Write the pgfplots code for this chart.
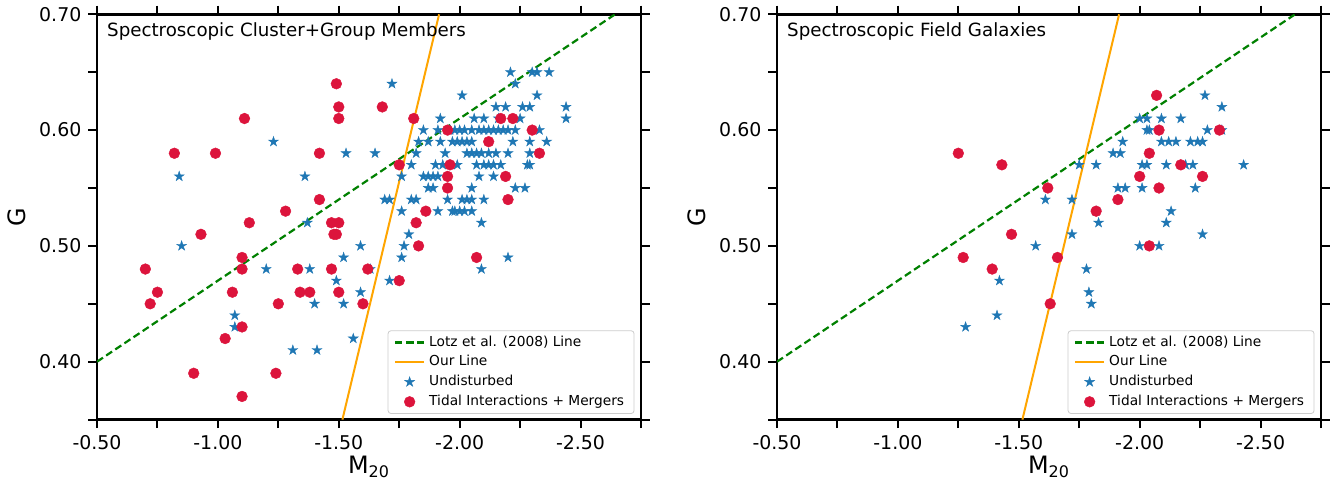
\documentclass[border=0pt]{standalone}
\usepackage{fontspec}
\setmainfont{DejaVu Sans}
\usepackage{pgfplots}
\pgfplotsset{compat=1.18}
\definecolor{mblue}{HTML}{1F77B4}
\definecolor{mred}{HTML}{DC143C}
\definecolor{morange}{HTML}{FFA500}
\definecolor{mgreen}{HTML}{008000}
\pgfdeclareplotmark{fstar}{%
\pgfpathmoveto{\pgfpointpolar{90}{\pgfplotmarksize}}%
\pgfpathlineto{\pgfpointpolar{126}{0.38\pgfplotmarksize}}%
\pgfpathlineto{\pgfpointpolar{162}{\pgfplotmarksize}}%
\pgfpathlineto{\pgfpointpolar{198}{0.38\pgfplotmarksize}}%
\pgfpathlineto{\pgfpointpolar{234}{\pgfplotmarksize}}%
\pgfpathlineto{\pgfpointpolar{270}{0.38\pgfplotmarksize}}%
\pgfpathlineto{\pgfpointpolar{306}{\pgfplotmarksize}}%
\pgfpathlineto{\pgfpointpolar{342}{0.38\pgfplotmarksize}}%
\pgfpathlineto{\pgfpointpolar{18}{\pgfplotmarksize}}%
\pgfpathlineto{\pgfpointpolar{54}{0.38\pgfplotmarksize}}%
\pgfpathclose
\pgfusepathqfillstroke}

\pgfplotstableread{
x y
-2.21 0.65
-2.30 0.65
-2.32 0.65
-2.37 0.65
-1.72 0.64
-2.23 0.64
-2.01 0.63
-2.32 0.63
-2.15 0.62
-2.19 0.62
-2.26 0.62
-2.29 0.62
-2.44 0.62
-1.92 0.61
-2.06 0.61
-2.10 0.61
-2.16 0.61
-2.25 0.61
-2.44 0.61
-1.85 0.60
-1.91 0.60
-1.96 0.60
-1.98 0.60
-2.00 0.60
-2.02 0.60
-2.05 0.60
-2.08 0.60
-2.10 0.60
-2.12 0.60
-2.14 0.60
-2.16 0.60
-2.18 0.60
-2.20 0.60
-2.23 0.60
-2.33 0.60
-1.23 0.59
-1.83 0.59
-1.87 0.59
-1.92 0.59
-1.97 0.59
-1.99 0.59
-2.01 0.59
-2.03 0.59
-2.05 0.59
-2.22 0.59
-2.29 0.59
-2.36 0.59
-1.53 0.58
-1.65 0.58
-1.82 0.58
-1.94 0.58
-2.03 0.58
-2.05 0.58
-2.07 0.58
-2.09 0.58
-2.12 0.58
-2.15 0.58
-2.20 0.58
-2.29 0.58
-1.80 0.57
-1.90 0.57
-1.93 0.57
-1.99 0.57
-2.07 0.57
-2.10 0.57
-2.12 0.57
-2.14 0.57
-2.17 0.57
-2.28 0.57
-2.29 0.57
-0.84 0.56
-1.36 0.56
-1.76 0.56
-1.85 0.56
-1.87 0.56
-1.89 0.56
-1.91 0.56
-2.08 0.56
-2.14 0.56
-1.87 0.55
-1.89 0.55
-2.05 0.55
-2.23 0.55
-2.27 0.55
-1.69 0.54
-1.71 0.54
-1.80 0.54
-1.82 0.54
-1.95 0.54
-2.01 0.54
-2.03 0.54
-2.05 0.54
-2.10 0.54
-1.76 0.53
-1.91 0.53
-1.97 0.53
-1.98 0.53
-2.00 0.53
-2.02 0.53
-2.05 0.53
-1.37 0.52
-2.09 0.52
-1.79 0.51
-0.85 0.50
-1.59 0.50
-1.77 0.50
-1.52 0.49
-1.76 0.49
-2.20 0.49
-1.20 0.48
-1.38 0.48
-1.63 0.48
-2.09 0.48
-1.49 0.47
-1.71 0.47
-1.59 0.46
-1.40 0.45
-1.52 0.45
-1.07 0.44
-1.07 0.43
-1.56 0.42
-1.31 0.41
-1.41 0.41
}\leftstars

\pgfplotstableread{
x y
-1.49 0.64
-1.50 0.62
-1.68 0.62
-1.11 0.61
-1.50 0.61
-1.81 0.61
-2.17 0.61
-2.22 0.61
-1.95 0.60
-2.30 0.60
-2.12 0.59
-0.82 0.58
-0.99 0.58
-1.42 0.58
-2.33 0.58
-1.75 0.57
-1.96 0.57
-1.95 0.56
-2.19 0.56
-1.95 0.55
-1.42 0.54
-2.20 0.54
-1.28 0.53
-1.86 0.53
-1.13 0.52
-1.47 0.52
-1.50 0.52
-1.82 0.52
-0.93 0.51
-1.48 0.51
-1.49 0.51
-1.83 0.50
-1.10 0.49
-2.07 0.49
-0.70 0.48
-1.10 0.48
-1.33 0.48
-1.47 0.48
-1.62 0.48
-1.75 0.47
-0.75 0.46
-1.06 0.46
-1.34 0.46
-1.38 0.46
-1.50 0.46
-0.72 0.45
-1.25 0.45
-1.60 0.45
-1.10 0.43
-1.03 0.42
-0.90 0.39
-1.24 0.39
-1.10 0.37
}\leftreds

\pgfplotstableread{
x y
-2.27 0.63
-2.34 0.62
-2.00 0.61
-2.03 0.61
-2.09 0.61
-2.17 0.61
-2.03 0.60
-2.04 0.60
-2.28 0.60
-2.34 0.60
-1.93 0.59
-2.09 0.59
-2.12 0.59
-2.15 0.59
-2.21 0.59
-2.24 0.59
-2.26 0.59
-1.89 0.58
-1.92 0.58
-1.75 0.57
-1.82 0.57
-2.01 0.57
-2.03 0.57
-2.11 0.57
-2.19 0.57
-2.22 0.57
-2.43 0.57
-1.91 0.55
-1.94 0.55
-2.01 0.55
-2.23 0.55
-1.61 0.54
-1.72 0.54
-1.82 0.53
-2.13 0.53
-1.83 0.52
-2.11 0.52
-1.72 0.51
-2.26 0.51
-1.57 0.50
-2.00 0.50
-2.08 0.50
-1.78 0.48
-1.42 0.47
-1.79 0.46
-1.80 0.45
-1.41 0.44
-1.28 0.43
}\rightstars

\pgfplotstableread{
x y
-2.07 0.63
-2.08 0.60
-2.33 0.60
-1.25 0.58
-2.04 0.58
-1.43 0.57
-2.17 0.57
-2.00 0.56
-2.26 0.56
-1.62 0.55
-2.08 0.55
-1.91 0.54
-1.82 0.53
-1.47 0.51
-2.04 0.50
-1.27 0.49
-1.66 0.49
-1.39 0.48
-1.63 0.45
}\rightreds

\pgfplotsset{panel/.style={
  scale only axis, width=272bp, height=202.65bp,
  x dir=reverse, xmin=-2.75, xmax=-0.5, ymin=0.35, ymax=0.70,
  xtick={-0.5,-1,-1.5,-2,-2.5}, xticklabels={-0.50,-1.00,-1.50,-2.00,-2.50},
  minor xtick={-0.75,-1.25,-1.75,-2.25,-2.75},
  ytick={0.4,0.5,0.6,0.7}, yticklabels={0.40,0.50,0.60,0.70},
  minor ytick={0.35,0.45,0.55,0.65},
  tick align=outside, major tick length=4.3bp, minor tick length=4.3bp,
  every tick/.style={black, line width=1bp},
  axis line style={line width=1.3bp},
  tick label style={font=\fontsize{9.5}{11}\selectfont},
  xlabel={M\textsubscript{20}}, ylabel={G},
  label style={font=\fontsize{12}{14}\selectfont},
  xlabel style={yshift=3.5bp},
  legend style={at={(0.988,0.014)}, anchor=south east, draw=black!20, rounded corners=1.5pt,
    fill=white, font=\fontsize{6.9}{8}\selectfont, legend cell align=left, row sep=-0.8bp,
    inner ysep=0.5bp},
  legend image code/.code={\draw[mark repeat=2,mark phase=2] plot coordinates {(0bp,0bp)(7.25bp,0bp)(14.5bp,0bp)};},
  clip mode=individual,
}}

\begin{document}
\begin{tikzpicture}
\begin{axis}[panel, at={(48.5bp,-7.15bp)}, anchor=north west]
\addplot[mgreen, line width=1.1bp, dash pattern=on 3.6bp off 1.9bp] coordinates {(-0.5,0.40) (-2.642857,0.70)};
\addplot[morange, line width=1bp] coordinates {(-1.515,0.35) (-1.915,0.70)};
\addplot[only marks, mark=fstar, mark size=2.6bp, mark options={fill=mblue, draw=mblue, line width=0.2bp}] table {\leftstars};
\addplot[only marks, mark=*, mark size=2.7bp, mark options={fill=mred, draw=mred, line width=0.2bp}] table {\leftreds};
\legend{Lotz et al. (2008) Line, Our Line, Undisturbed, Tidal Interactions + Mergers}
\node[anchor=north west, inner sep=0pt, font=\fontsize{9.15}{11}\selectfont] at (rel axis cs:0.018,0.981) {Spectroscopic Cluster+Group Members};
\end{axis}
\begin{axis}[panel, at={(388.5bp,-7.15bp)}, anchor=north west]
\addplot[mgreen, line width=1.1bp, dash pattern=on 3.6bp off 1.9bp] coordinates {(-0.5,0.40) (-2.642857,0.70)};
\addplot[morange, line width=1bp] coordinates {(-1.515,0.35) (-1.915,0.70)};
\addplot[only marks, mark=fstar, mark size=2.6bp, mark options={fill=mblue, draw=mblue, line width=0.2bp}] table {\rightstars};
\addplot[only marks, mark=*, mark size=2.7bp, mark options={fill=mred, draw=mred, line width=0.2bp}] table {\rightreds};
\legend{Lotz et al. (2008) Line, Our Line, Undisturbed, Tidal Interactions + Mergers}
\node[anchor=north west, inner sep=0pt, font=\fontsize{9.15}{11}\selectfont] at (rel axis cs:0.018,0.981) {Spectroscopic Field Galaxies};
\end{axis}
\pgfresetboundingbox
\useasboundingbox (0bp,0bp) rectangle (670bp,-240.5bp);
\end{tikzpicture}
\end{document}
